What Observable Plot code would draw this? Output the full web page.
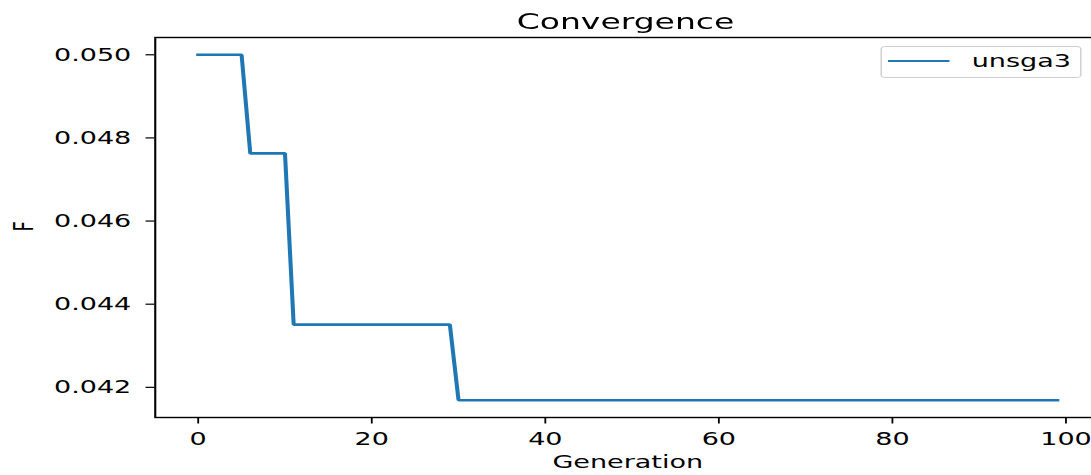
<!DOCTYPE html>
<html>
<head>
<meta charset="utf-8">
<script src="https://cdn.jsdelivr.net/npm/d3@7"></script>
<script src="https://cdn.jsdelivr.net/npm/@observablehq/plot@0.6"></script>
<style>
  html, body { margin: 0; padding: 0; background: #fff; overflow: hidden; }
  #wrap { position: relative; width: 733px; transform: scaleX(1.5); transform-origin: 0 0; font-family: "DejaVu Sans", sans-serif; color: #000; }
  #title { position: relative; height: 33px; }
  #title span { position: absolute; left: 0; width: 834px; top: 10.7px; text-align: center; font-size: 22px; line-height: 22px; }
  #legend { position: absolute; left: 587px; top: 46px; width: 134px; height: 32px; box-sizing: border-box; border: 1px solid #d0d0d0; border-radius: 3px; background: rgba(255,255,255,0.8); }
  #legend .swatch { position: absolute; left: 4px; top: 12.6px; width: 41px; height: 2.7px; background: #1f77b4; }
  #legend .lab { position: absolute; left: 59.8px; top: 4.5px; font-size: 18px; line-height: 18px; white-space: nowrap; }
  svg { display: block; }
</style>
</head>
<body>
<div id="wrap">
  <div id="title"><span>Convergence</span></div>
  <div id="chart"></div>
  <div id="legend"><span class="swatch"></span><span class="lab">unsga3</span></div>
</div>
<script>
// Data (step breakpoints of the convergence curve, generations 0..99)
const generation = [0, 5, 6, 10, 11, 29, 30, 99];
const F = [0.0500, 0.0500, 0.04763, 0.04763, 0.04351, 0.04351, 0.04169, 0.04169];
const seriesName = "unsga3";
const xTicks = [0, 20, 40, 60, 80, 100];
const yTicks = [0.042, 0.044, 0.046, 0.048, 0.050];

const data = generation.map((g, i) => ({generation: g, F: F[i], series: seriesName}));

// matplotlib-style 5% margins
const [x0, x1] = d3.extent(generation);
const [y0, y1] = d3.extent(F);
const xPad = (x1 - x0) * 0.05, yPad = (y1 - y0) * 0.05;

const chart = Plot.plot({
  width: 733,
  height: 442,
  marginLeft: 103,
  marginRight: 0,
  marginTop: 4,
  marginBottom: 58,
  style: {fontFamily: "DejaVu Sans, sans-serif", fontSize: "18px", color: "#000", background: "#fff", overflow: "visible"},
  x: {domain: [x0 - xPad, x1 + xPad]},
  y: {domain: [y0 - yPad, y1 + yPad]},
  marks: [
    Plot.axisY({ticks: yTicks, tickFormat: d3.format(".3f"), tickSize: 6, tickPadding: 10, label: null, strokeWidth: 1.2}),
    Plot.axisX({ticks: xTicks, tickFormat: d3.format("d"), tickSize: 6.5, tickPadding: 8, label: null, strokeWidth: 1.2}),
    Plot.line(data, {x: "generation", y: "F", stroke: "#1f77b4", strokeWidth: 2.7, strokeLinejoin: "miter", strokeLinecap: "square"}),
    Plot.frame({stroke: "#000", strokeWidth: 1.4}),
    Plot.text(["Generation"], {text: d => d, frameAnchor: "bottom", lineAnchor: "bottom", dy: 50.5, fontSize: 18}),
    Plot.text(["F"], {text: d => d, frameAnchor: "left", rotate: -90, lineAnchor: "middle", dx: -87, dy: 4, fontSize: 18})
  ]
});
document.getElementById("chart").appendChild(chart);
</script>
</body>
</html>
